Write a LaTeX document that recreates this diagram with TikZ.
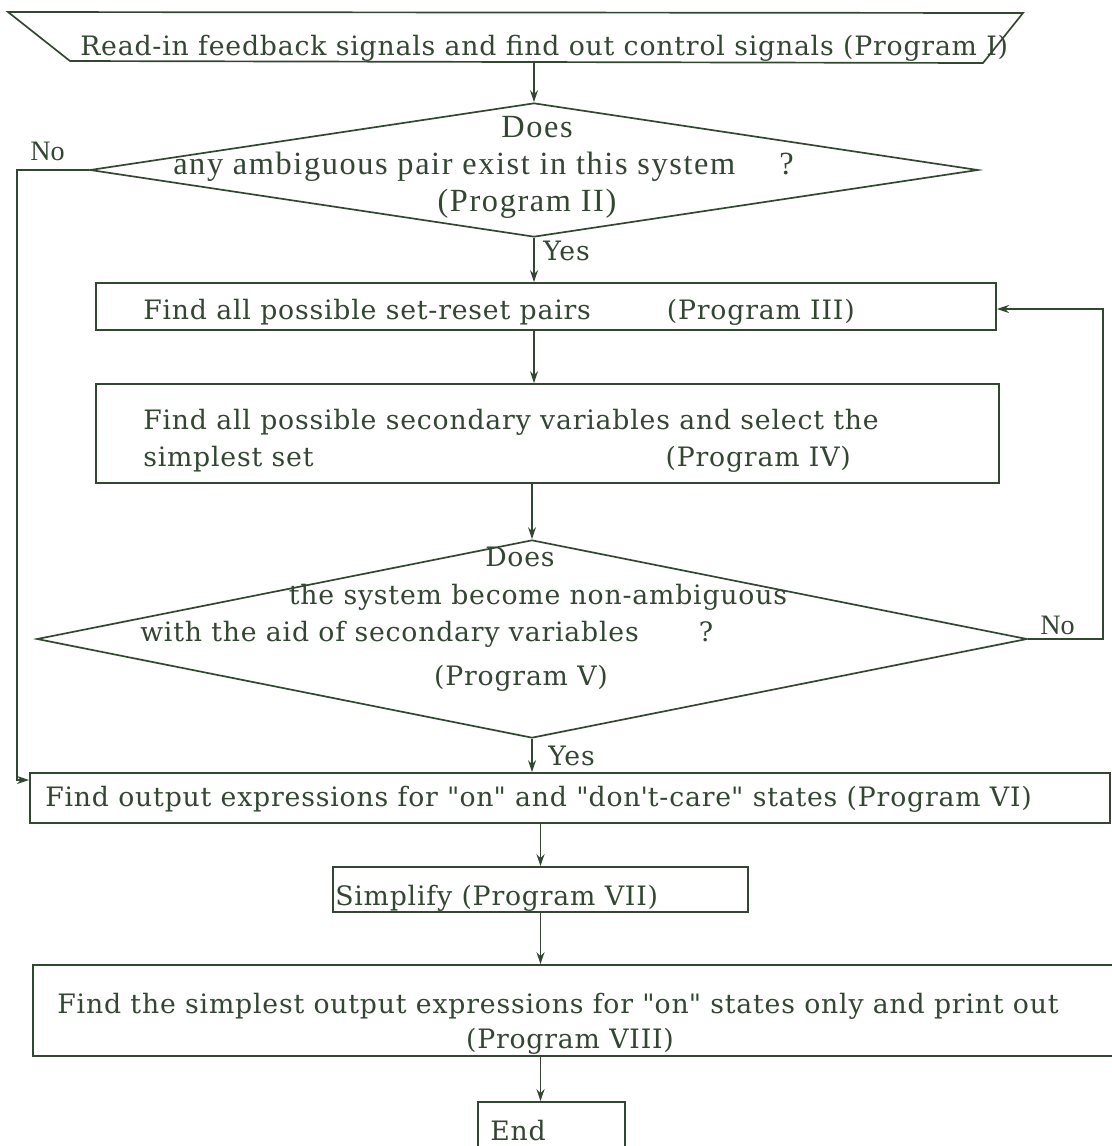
\documentclass[tikz,border=0pt]{standalone}
\usepackage{fontspec}
\setmainfont[LetterSpace=3]{DejaVu Serif}
\newfontfamily\narrowserif[LetterSpace=5]{Liberation Serif}
\newfontfamily\labelserif{Liberation Serif}
\usetikzlibrary{arrows.meta,shapes.geometric}
\definecolor{ink}{RGB}{50,70,50}

\begin{document}
\begin{tikzpicture}[
  x=0.025cm, y=-0.025cm,
  color=ink,
  every node/.style={inner sep=0pt},
  proc/.style={draw, rectangle, line width=1.2pt},
  ask/.style={draw, diamond, line width=1.2pt},
  txt/.style={font=\fontsize{19}{23}\selectfont},
  cond/.style={font=\narrowserif\fontsize{23}{27}\selectfont},
  lbl/.style={font=\labelserif\fontsize{20}{24}\selectfont},
  flow/.style={draw, line width=1.2pt, ->, >={Stealth[length=3mm, width=2mm]}},
]
\useasboundingbox (0,0) rectangle (1112,1146);

% input box (drawn by its corners)
\coordinate (rtl) at (8,12);
\coordinate (rtr) at (1023,13);
\coordinate (rbr) at (983,63);
\coordinate (rbl) at (70,61);
\coordinate (readin) at (534,62);
\draw[line width=1.2pt] (rtl) -- (rtr) -- (rbr) -- (rbl) -- cycle;

% shapes
\node[ask, minimum width=22.2cm, minimum height=3.35cm] (amb) at (534,170) {};
\node[proc, minimum width=22.5cm, minimum height=1.175cm] (setreset) at (546,306.5) {};
\node[proc, minimum width=22.575cm, minimum height=2.475cm] (secvar) at (547.5,433.5) {};
\node[ask, minimum width=24.75cm, minimum height=4.95cm] (nonamb) at (532,639) {};
\node[proc, minimum width=27cm, minimum height=1.25cm] (outexp) at (570,798) {};
\node[proc, minimum width=10.375cm, minimum height=1.125cm] (simp) at (540.5,889.5) {};
\node[proc, minimum width=27.3cm, minimum height=2.275cm] (simplest) at (579,1010.5) {};
\node[proc, minimum width=3.675cm, minimum height=1.45cm] (theend) at (551.5,1131) {};

% texts
\node[txt, anchor=base west] (readtxt) at (80,55) {Read-in feedback signals and find out control signals (Program I)};
\node[cond, anchor=base] (q1a) at (537,137) {Does};
\node[cond, anchor=base west] (q1b) at (173,174) {any ambiguous pair exist in this system\hspace{1.1cm}?};
\node[cond, anchor=base] (q1c) at (527,211) {(Program II)};
\node[txt, anchor=base west] (srtxt) at (143,319) {Find all possible set-reset pairs\hspace{1.9cm}(Program III)};
\node[txt, anchor=base west] (svtxt) at (143,429) {Find all possible secondary variables and select the};
\node[txt, anchor=base west] (svtxt2) at (143,466) {simplest set\hspace{8.8cm}(Program IV)};
\node[txt, anchor=base] (q2a) at (520,566) {Does};
\node[txt, anchor=base] (q2b) at (538,604) {the system become non-ambiguous};
\node[txt, anchor=base west] (q2c) at (140,641) {with the aid of secondary variables\hspace{1.5cm}?};
\node[txt, anchor=base] (q2d) at (521,685) {(Program V)};
\node[txt, anchor=base west] (oetxt) at (45,806) {Find output expressions for \textquotedbl on\textquotedbl{} and \textquotedbl don\textquotesingle t-care\textquotedbl{} states (Program VI)};
\node[txt, anchor=base west] (simptxt) at (335,905) {Simplify (Program VII)};
\node[txt, anchor=base] (sptxt) at (558,1013) {Find the simplest output expressions for \textquotedbl on\textquotedbl{} states only and print out};
\node[txt, anchor=base] (sptxt2) at (570,1048) {(Program VIII)};
\node[txt, anchor=base west] (endtxt) at (490,1140) {End};

% branch labels
\node[lbl, anchor=base west] (nol) at (30,160) {No};
\node[txt, anchor=base west] (yes1) at (543,260) {Yes};
\node[txt, anchor=base west] (yes2) at (548,765) {Yes};
\node[lbl, anchor=base west] (nor) at (1040,634) {No};

% flow lines
\coordinate (nobend) at (17,780);
\coordinate (loopup) at (1103,309);
\draw[flow] (readin) -- (amb.north);
\draw[flow] (amb.south) -- (amb.south |- setreset.north);
\draw[flow] (setreset.south -| amb.south) -- (secvar.north -| amb.south);
\draw[flow] (secvar.south -| nonamb.north) -- (nonamb.north);
\draw[flow] (nonamb.south) -- (nonamb.south |- outexp.north);
\draw[flow] (outexp.south -| simp.north) -- (simp.north);
\draw[flow] (simp.south) -- (simp.south |- simplest.north);
\draw[flow] (simplest.south -| simp.south) -- (simp.south |- theend.north);
\draw[flow] (amb.west) -| (nobend) -- (nobend -| outexp.west);
\draw[flow] (nonamb.east) -| (loopup) -- (loopup -| setreset.east);
\end{tikzpicture}
\end{document}
